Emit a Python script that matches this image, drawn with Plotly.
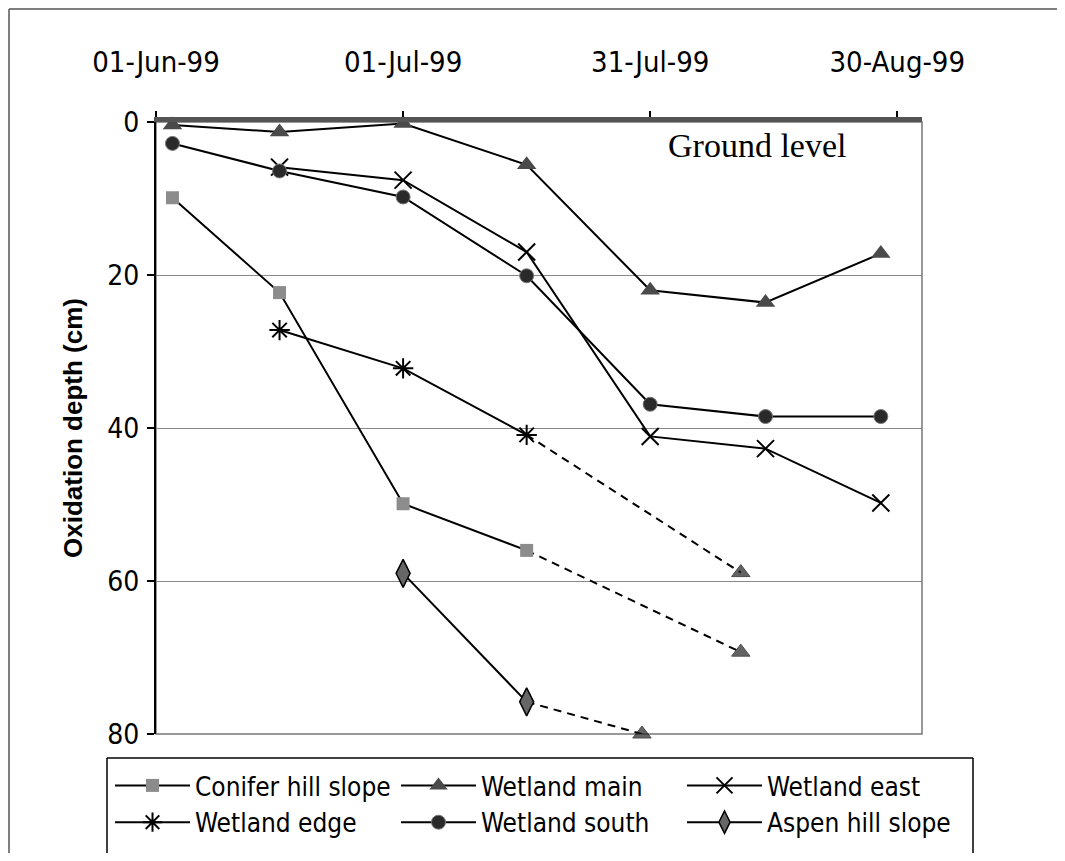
import plotly.graph_objects as go

# ---------------- data ----------------
dates = ['1999-06-03', '1999-06-16', '1999-07-01', '1999-07-16',
         '1999-07-31', '1999-08-14', '1999-08-28']

conifer = [9.9, 22.3, 49.9, 56.0, None, None, None]
wet_main = [0.4, 1.3, 0.2, 5.6, 22.0, 23.6, 17.2]
wet_east = [None, 5.9, 7.6, 17.0, 41.1, 42.7, 49.8]
wet_edge = [None, 27.2, 32.2, 40.9, None, None, None]
wet_south = [2.8, 6.4, 9.8, 20.1, 36.9, 38.5, 38.5]
aspen = [None, None, 59.0, 75.8, None, None, None]

# dashed projections (start, end)
edge_proj_x = ['1999-07-16', '1999-08-11']
edge_proj_y = [40.9, 58.9]
conifer_proj_x = ['1999-07-16', '1999-08-11']
conifer_proj_y = [56.0, 69.3]
aspen_proj_x = ['1999-07-16', '1999-07-30']
aspen_proj_y = [75.8, 80.0]

tick_vals = ['1999-06-01', '1999-07-01', '1999-07-31', '1999-08-30']
tick_text = ['01-Jun-99', '01-Jul-99', '31-Jul-99', '30-Aug-99']
y_ticks = [0, 20, 40, 60, 80]

# ---------------- layout geometry ----------------
# page body has an 8px margin, so the figure is drawn 8px right/down
S = 8
W, H = 1049, 845
L, T = 148, 114
PW, PH = 766, 612
R, B = W - L - PW, H - T - PH


def fx(screen_x):
    return (screen_x - S - L) / PW


def fy(screen_y):
    return (H - B - (screen_y - S)) / PH


NARROW = "DejaVu Sans Condensed, Liberation Sans Narrow, sans-serif"

fig = go.Figure()

series = [
    ("Conifer hill slope", conifer, dict(symbol="square", size=13, color="#8c8c8c")),
    ("Wetland main", wet_main, dict(symbol="triangle-up", size=17, color="#4a4a4a")),
    ("Wetland east", wet_east, dict(symbol="x-thin-open", size=17, color="black",
                                     line=dict(width=2, color="black"))),
    ("Wetland edge", wet_edge, dict(symbol="asterisk-open", size=17, color="black",
                                     line=dict(width=2, color="black"))),
    ("Wetland south", wet_south, dict(symbol="circle", size=14, color="#2a2a2a",
                                       line=dict(width=1, color="#777777"))),
    ("Aspen hill slope", aspen, dict(symbol="diamond-tall", size=20, color="#666666",
                                      line=dict(width=1.5, color="black"))),
]

# dashed projections first (no legend)
for xs, ys in [(edge_proj_x, edge_proj_y), (conifer_proj_x, conifer_proj_y),
               (aspen_proj_x, aspen_proj_y)]:
    fig.add_trace(go.Scatter(
        x=xs, y=ys, mode="lines+markers", showlegend=False, cliponaxis=False,
        line=dict(color="black", width=2, dash="8px,6px"),
        marker=dict(symbol="triangle-up", size=[0, 16], color="#222222"),
        hoverinfo="skip"))

for name, vals, mk in series:
    fig.add_trace(go.Scatter(
        x=dates, y=vals, name=name, mode="lines+markers", cliponaxis=False,
        connectgaps=False,
        line=dict(color="black", width=2),
        marker=mk))

line_gray = dict(color="#555555", width=1.5)
shapes = [
    # plot-area frame
    dict(type="rect", xref="paper", yref="paper", x0=0, x1=1, y0=0, y1=1,
         line=dict(color="#777777", width=1.5), layer="below"),
    # outer chart border (top and left)
    dict(type="line", xref="paper", yref="paper", x0=fx(9), x1=fx(1065), y0=fy(9), y1=fy(9),
         line=line_gray),
    dict(type="line", xref="paper", yref="paper", x0=fx(9), x1=fx(9), y0=fy(9), y1=fy(870),
         line=line_gray),
    # legend box (open at the bottom, as in the cropped original)
    dict(type="line", xref="paper", yref="paper", x0=fx(107), x1=fx(973), y0=fy(758), y1=fy(758),
         line=dict(color="black", width=1.5)),
    dict(type="line", xref="paper", yref="paper", x0=fx(107), x1=fx(107), y0=fy(758), y1=fy(870),
         line=dict(color="black", width=1.5)),
    dict(type="line", xref="paper", yref="paper", x0=fx(973), x1=fx(973), y0=fy(758), y1=fy(870),
         line=dict(color="black", width=1.5)),
]

fig.update_layout(
    width=W, height=H,
    margin=dict(l=L, r=R, t=T, b=B, autoexpand=False),
    paper_bgcolor="white", plot_bgcolor="white",
    font=dict(family=NARROW, color="black"),
    shapes=shapes,
    xaxis=dict(
        type="date", side="top",
        range=['1999-06-01', '1999-09-02'],
        tickmode="array", tickvals=tick_vals, ticktext=tick_text,
        tickfont=dict(family=NARROW, size=29, color="black"),
        ticks="outside", ticklen=6, tickwidth=2, tickcolor="black",
        ticklabelstandoff=27,
        showline=True, linecolor="#555555", linewidth=5,
        showgrid=False, zeroline=False,
    ),
    yaxis=dict(
        range=[80, 0],
        tickmode="array", tickvals=y_ticks,
        tickfont=dict(family=NARROW, size=28, color="black"),
        ticks="outside", ticklen=7, tickwidth=1.5, tickcolor="black",
        ticklabelstandoff=2,
        showline=True, linecolor="black", linewidth=2,
        showgrid=True, gridcolor="#888888", gridwidth=1,
        zeroline=False,
    ),
    legend=dict(
        orientation="h", x=fx(110), y=fy(762), xanchor="left", yanchor="top",
        font=dict(family=NARROW, size=26, color="black"),
        borderwidth=0,
        itemwidth=75, entrywidth=196, tracegroupgap=0,
        bgcolor="rgba(0,0,0,0)",
    ),
    annotations=[
        dict(text="Ground level", xref="paper", yref="paper", x=fx(757), y=fy(146),
             xanchor="center", yanchor="middle",
             showarrow=False, font=dict(family="Liberation Serif, Times New Roman, serif",
                                        size=34, color="black")),
        dict(text="<b>Oxidation depth (cm)</b>", xref="paper", yref="paper",
             x=fx(73), y=fy(428), xanchor="center", yanchor="middle",
             textangle=-90, showarrow=False,
             font=dict(family="Liberation Sans, Arial, sans-serif", size=26, color="black")),
    ],
)

fig.write_html("out.html")
